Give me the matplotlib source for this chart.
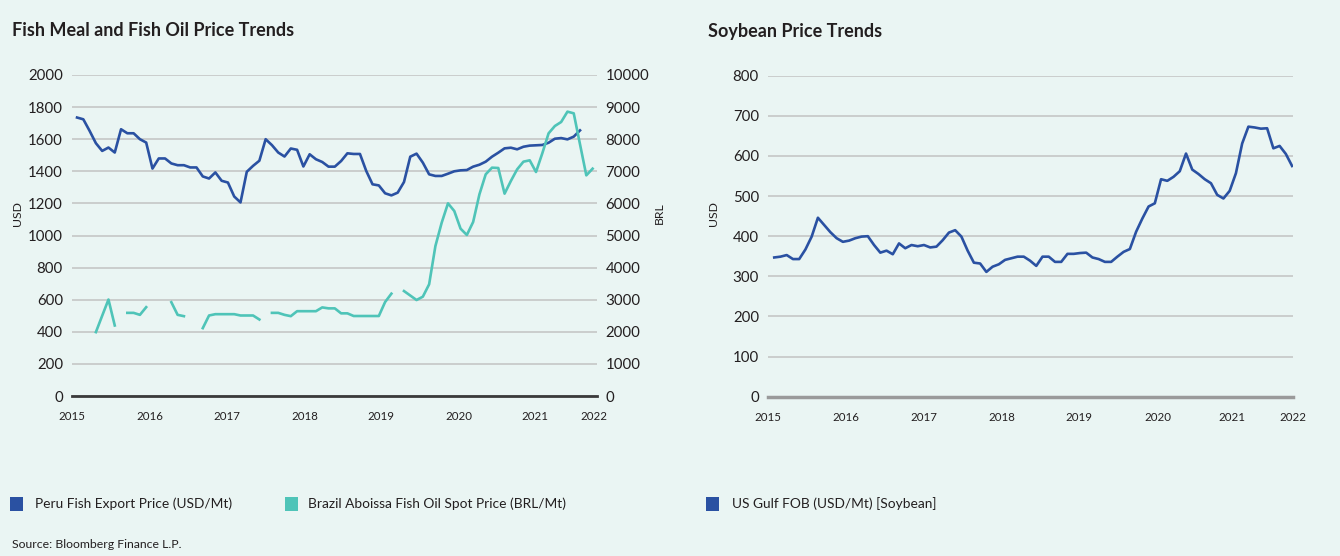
import numpy as np
import matplotlib
matplotlib.use("Agg")
import matplotlib.pyplot as plt
from matplotlib.patches import Rectangle

# ---------------- data ----------------
year_labels = ["2015", "2016", "2017", "2018", "2019", "2020", "2021", "2022"]

# Peru fish meal export price (USD/Mt), monthly from Jan 2015
peru_usd = [
    1735, 1724, 1652, 1575, 1527, 1548, 1517, 1662, 1637, 1637, 1600, 1579,
    1417, 1480, 1480, 1449, 1438, 1438, 1424, 1424, 1368, 1355, 1393, 1341,
    1330, 1243, 1206, 1397, 1434, 1466, 1600, 1563, 1517, 1492, 1542, 1534,
    1430, 1506, 1475, 1458, 1429, 1429, 1464, 1512, 1508, 1508, 1402, 1319,
    1312, 1263, 1250, 1267, 1333, 1491, 1510, 1454, 1381, 1371, 1371, 1385,
    1400, 1406, 1408, 1429, 1441, 1460, 1491, 1516, 1543, 1547, 1537, 1553,
    1560, 1562, 1564, 1578, 1603, 1607, 1599, 1616, 1655,
]

# Brazil Aboissa fish oil spot price (BRL/Mt), monthly from Jan 2015 (gaps = missing)
nan = np.nan
brazil_brl = [
    nan, nan, nan, 1990, 2500, 3005, 2197, nan, 2590, 2590, 2528, 2767,
    nan, nan, nan, 2922, 2528, 2487, nan, nan, 2114, 2508, 2549, 2549,
    2549, 2549, 2508, 2508, 2508, 2383, nan, 2590, 2590, 2528, 2487, 2642,
    2642, 2642, 2642, 2760, 2730, 2730, 2575, 2575, 2492, 2492, 2492, 2492,
    2492, 2928, 3188, nan, 3270, 3130, 2990, 3094, 3479, 4673, 5400, 6002,
    5763, 5213, 5016, 5421, 6282, 6906, 7113, 7103, 6303, 6698, 7061, 7300,
    7342, 6978, 7560, 8183, 8411, 8536, 8858, 8806, 7840, 6874, 7082,
]

# US Gulf FOB soybean price (USD/Mt), monthly from Jan 2015
soy_usd = [
    347, 349, 353, 343, 343, 367, 399, 446, 428, 410, 395, 386,
    389, 395, 399, 400, 378, 359, 364, 355, 382, 370, 378, 375,
    378, 372, 374, 390, 409, 415, 399, 364, 334, 332, 311, 324,
    330, 341, 345, 349, 349, 339, 326, 349, 349, 336, 336, 356,
    356, 358, 359, 347, 343, 336, 336, 349, 361, 368, 411, 444,
    474, 482, 542, 538, 548, 562, 606, 566, 555, 542, 532, 503,
    494, 513, 557, 631, 673, 671, 668, 669, 619, 625, 605, 575,
]

# ---------------- style ----------------
W, H = 1340, 556
BG = "#EAF5F3"
BLUE = "#2A51A2"
CYAN = "#4FC4B8"
TXT = "#231F20"
GRID = "#C8CACA"

plt.rcParams['font.family'] = ['Lato', 'DejaVu Sans']

fig = plt.figure(figsize=(W / 100, H / 100), dpi=100, facecolor=BG)


def rect(x0, y_top, x1, y_bot):
    return [x0 / W, 1 - y_bot / H, (x1 - x0) / W, (y_bot - y_top) / H]


def style_axes(a, zero_color, zero_lw):
    a.set_facecolor("none")
    for s in a.spines.values():
        s.set_visible(False)
    a.tick_params(axis='both', length=0, colors=TXT)
    a.tick_params(axis='y', labelsize=10.8, pad=6.5)
    a.tick_params(axis='x', labelsize=8.3, pad=11)
    a.grid(axis='y', color=GRID, lw=1.3)
    a.set_axisbelow(True)
    a.axhline(0, color=zero_color, lw=zero_lw, clip_on=False, zorder=1.5)


# ---------------- left chart ----------------
ax = fig.add_axes(rect(72, 75, 597, 396))
style_axes(ax, "#3A3A3A", 2.0)
ax.set_xlim(-0.5, 82.7)
ax.set_ylim(0, 2000)
ax.set_yticks(range(0, 2001, 200))
ax.set_xticks([-0.8, 11.6, 23.8, 36.3, 48.3, 60.8, 72.9, 82.2])
ax.set_xticklabels(year_labels)
ax.plot(np.arange(len(peru_usd)), peru_usd, color=BLUE, lw=1.9, zorder=3)

ax2 = ax.twinx()
ax2.set_ylim(0, 10000)
ax2.set_yticks(range(0, 10001, 1000))
for s in ax2.spines.values():
    s.set_visible(False)
ax2.tick_params(axis='y', length=0, colors=TXT, labelsize=10.8, pad=6)
ax2.plot(np.arange(len(brazil_brl)), brazil_brl, color=CYAN, lw=1.9, zorder=2)

# ---------------- right chart ----------------
ax3 = fig.add_axes(rect(768, 75.7, 1292.7, 396.7))
style_axes(ax3, "#9A9A9A", 2.5)
ax3.set_xlim(-1.0, 83.05)
ax3.set_ylim(0, 800)
ax3.set_yticks(range(0, 801, 100))
ax3.set_xticks([-1.0, 11.5, 23.9, 36.5, 48.8, 61.5, 73.3, 83.1])
ax3.set_xticklabels(year_labels)
ax3.plot(np.arange(len(soy_usd)), soy_usd, color=BLUE, lw=1.9, zorder=3)

# ---------------- texts ----------------
def ftext(x, y, s, **kw):
    kw.setdefault('color', TXT)
    fig.text(x / W, 1 - y / H, s, **kw)


ftext(12, 31, "Fish Meal and Fish Oil Price Trends", fontsize=13, fontweight='bold', va='center')
ftext(708, 31, "Soybean Price Trends", fontsize=13, fontweight='bold', va='center')
ftext(18, 213, "USD", fontsize=8.8, rotation=90, va='center', ha='center')
ftext(659, 213, "BRL", fontsize=8.8, rotation=90, va='center', ha='center')
ftext(713, 213, "USD", fontsize=8.8, rotation=90, va='center', ha='center')


def legend_item(x_sq, x_txt, color, label):
    fig.add_artist(Rectangle((x_sq / W, 1 - 511 / H), 13 / W, 14 / H,
                             transform=fig.transFigure, facecolor=color,
                             edgecolor='none'))
    ftext(x_txt, 504, label, fontsize=9.9, va='center')


legend_item(10, 35, BLUE, "Peru Fish Export Price (USD/Mt)")
legend_item(285, 308, CYAN, "Brazil Aboissa Fish Oil Spot Price (BRL/Mt)")
legend_item(706, 732, BLUE, "US Gulf FOB (USD/Mt) [Soybean]")
ftext(12, 545, "Source: Bloomberg Finance L.P.", fontsize=8.8, va='center')

fig.savefig("out.png", dpi=100, facecolor=BG)
